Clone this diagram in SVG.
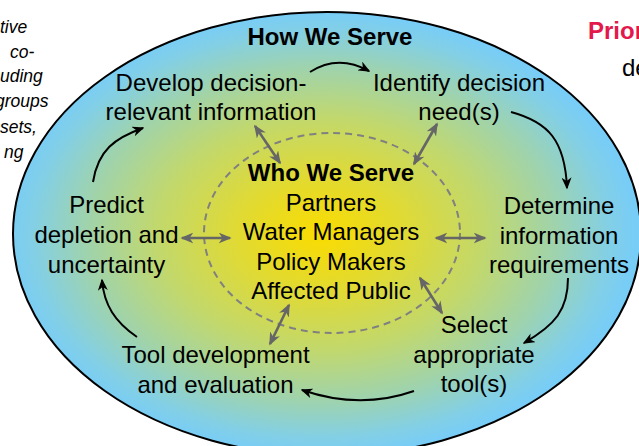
<svg xmlns="http://www.w3.org/2000/svg" width="639" height="446" viewBox="0 0 639 446">
  <style>
    .lbl { font-family: "Liberation Sans", Arial, sans-serif; font-size: 24px; fill: #000; text-anchor: middle; }
    .bold { font-weight: bold; }
    .side { font-family: "Liberation Sans", Arial, sans-serif; font-size: 17.5px; font-style: italic; fill: #000; }
    .cyc { fill: none; stroke: #000; stroke-width: 2; marker-end: url(#ah); }
    .dbl { fill: none; stroke: #666; stroke-width: 2.6; marker-start: url(#gh); marker-end: url(#gh); }
  </style>
  <defs>
    <radialGradient id="bg" cx="0.49" cy="0.5" r="0.5">
      <stop offset="0" stop-color="#fadc00"/>
      <stop offset="0.25" stop-color="#e2da30"/>
      <stop offset="0.52" stop-color="#c2d86c"/>
      <stop offset="0.75" stop-color="#9fd3ad"/>
      <stop offset="0.92" stop-color="#82cfe6"/>
      <stop offset="1" stop-color="#78cdf7"/>
    </radialGradient>
    <marker id="ah" viewBox="0 0 12 10" refX="10.5" refY="5" markerWidth="12" markerHeight="10" orient="auto" markerUnits="userSpaceOnUse">
      <path d="M0,0 L12,5 L0,10 L3.5,5 z" fill="#000"/>
    </marker>
    <marker id="gh" viewBox="0 0 12 10" refX="10.5" refY="5" markerWidth="13" markerHeight="11" orient="auto-start-reverse" markerUnits="userSpaceOnUse">
      <path d="M0,0 L12,5 L0,10 L3.5,5 z" fill="#666"/>
    </marker>
  </defs>

  <!-- side texts (clipped by frame, as in the reference) -->
  <g id="left-notes">
    <text class="side" x="0" y="33">tive</text>
    <text class="side" x="10" y="57.5">co-</text>
    <text class="side" x="0" y="82">uding</text>
    <text class="side" x="-5" y="106.5">groups</text>
    <text class="side" x="0" y="133">sets,</text>
    <text class="side" x="4" y="157.5">ng</text>
  </g>
  <g id="right-notes">
    <text x="588" y="39" style="font-family:'Liberation Sans',Arial,sans-serif;font-size:24px;font-weight:bold;fill:#e3184c">Prior</text>
    <text x="622" y="76" style="font-family:'Liberation Sans',Arial,sans-serif;font-size:24px;fill:#000">de</text>
  </g>

  <g id="how-we-serve">
    <ellipse cx="327" cy="234" rx="314" ry="222" fill="url(#bg)" stroke="#000" stroke-width="2"/>
    <text class="lbl bold" x="330" y="45">How We Serve</text>
  </g>

  <g id="who-we-serve">
    <ellipse cx="332" cy="233" rx="128" ry="100" fill="none" stroke="#808080" stroke-width="2" stroke-dasharray="7 5"/>
    <text class="lbl bold" x="331" y="181">Who We Serve</text>
    <text class="lbl" x="331" y="210.5">Partners</text>
    <text class="lbl" x="331" y="240">Water Managers</text>
    <text class="lbl" x="331" y="269.5">Policy Makers</text>
    <text class="lbl" x="331" y="299">Affected Public</text>
  </g>

  <g id="develop">
    <text class="lbl" x="211" y="91">Develop decision-</text>
    <text class="lbl" x="211" y="120">relevant information</text>
  </g>
  <g id="identify">
    <text class="lbl" x="459" y="91">Identify decision</text>
    <text class="lbl" x="459" y="120">need(s)</text>
  </g>
  <g id="determine">
    <text class="lbl" x="559" y="214">Determine</text>
    <text class="lbl" x="559" y="243.5">information</text>
    <text class="lbl" x="559" y="273">requirements</text>
  </g>
  <g id="select">
    <text class="lbl" x="474" y="333">Select</text>
    <text class="lbl" x="474" y="362.5">appropriate</text>
    <text class="lbl" x="474" y="392">tool(s)</text>
  </g>
  <g id="tool-dev">
    <text class="lbl" x="215.5" y="363">Tool development</text>
    <text class="lbl" x="215.5" y="392.5">and evaluation</text>
  </g>
  <g id="predict">
    <text class="lbl" x="106.5" y="213">Predict</text>
    <text class="lbl" x="106.5" y="243">depletion and</text>
    <text class="lbl" x="106.5" y="272.5">uncertainty</text>
  </g>

  <g id="connectors">
    <path class="cyc" d="M310,72 Q338,54 369,71"/>
    <path class="cyc" d="M511,112 C548,122 565,140 567,188"/>
    <path class="cyc" d="M568,278 C568,310 555,325 524,343"/>
    <path class="cyc" d="M414,391 Q360,410 302,390"/>
    <path class="cyc" d="M137,337 C115,322 104,305 102,280"/>
    <path class="cyc" d="M93,182 C98,150 115,138 143,128"/>

    <path class="dbl" d="M255,126 L280,163"/>
    <path class="dbl" d="M437,124 L414,164"/>
    <path class="dbl" d="M182,238 L230,238"/>
    <path class="dbl" d="M436,238 L485,238"/>
    <path class="dbl" d="M420,278 L442,313"/>
    <path class="dbl" d="M289,305 L270,344"/>
  </g>
</svg>
